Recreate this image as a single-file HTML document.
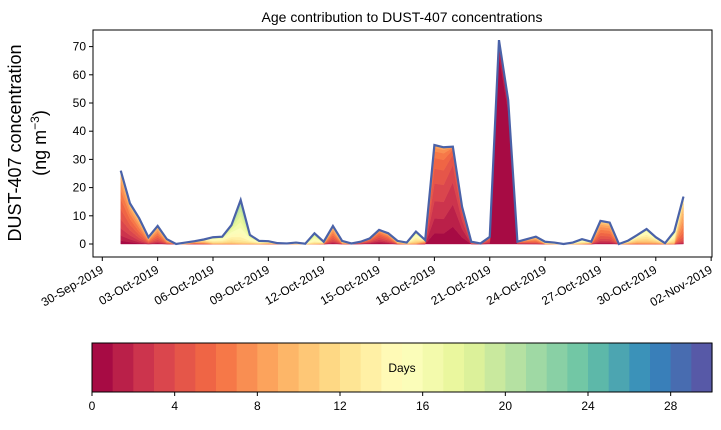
<!DOCTYPE html>
<html><head><meta charset="utf-8">
<style>
body{margin:0;background:#fff;font-family:"Liberation Sans",sans-serif;}
svg text{font-family:"Liberation Sans",sans-serif;fill:#000;}
</style></head>
<body>
<svg id="chart" width="721" height="425" viewBox="0 0 721 425" xmlns="http://www.w3.org/2000/svg">
<text x="402" y="22" font-size="14" text-anchor="middle">Age contribution to DUST-407 concentrations</text>
<g>
<text x="21" y="143" font-size="18" text-anchor="middle" transform="rotate(-90 21 143)">DUST-407 concentration</text>
<text x="46" y="143" font-size="18" text-anchor="middle" transform="rotate(-90 46 143)">(ng m<tspan font-size="12" dy="-7">−3</tspan><tspan dy="7">)</tspan></text>
</g>
<g id="layers"></g>
<g id="axes"></g>
<g id="cbar"></g>
</svg>
<script>
const totals=[26,14.4,9.1,2.4,6.4,1.7,0,0.5,1.0,1.6,2.4,2.6,6.7,15.6,3.2,1.1,1.0,0.3,0.2,0.5,0.1,3.8,0.8,6.4,1.1,0.2,0.8,2.0,5.0,3.8,1.1,0.5,4.4,1.4,35.1,34.3,34.5,13.2,0.8,0.2,2.5,72.3,51,0.8,1.7,2.6,0.8,0.5,0,0.5,1.7,0.8,8.2,7.6,0,1.2,3.2,5.3,2.4,0.3,4.4,16.8];
const meanAge=[5,5,6,7,6,8,10,12,8,10,14,14,15,17,15,14,12,10,10,14,12,16,12,6,10,8,5,4,4,5,10,12,14,8,3,3,2,2,6,10,4,0,0,4,6,7,12,14,12,14,14,10,6,6,8,12,12,13,12,10,14,8];
const spread=[3,3,3,3,3,3,3,3,3,3,3,3,3,3,3,3,3,3,3,3,3,3,3,3,3,3,3,3,3,3,3,3,3,3,2.5,2.5,2,2,3,3,2,0.6,0.6,3,3,3,3,3,3,3,3,3,3,3,3,3,3,3,3,3,3,3];
const xTickLabels=["30-Sep-2019","03-Oct-2019","06-Oct-2019","09-Oct-2019","12-Oct-2019","15-Oct-2019","18-Oct-2019","21-Oct-2019","24-Oct-2019","27-Oct-2019","30-Oct-2019","02-Nov-2019"];
const yTicks=[0,10,20,30,40,50,60,70];
const cbarTicks=[0,4,8,12,16,20,24,28];
const NL=30;
const NS="http://www.w3.org/2000/svg";
const X0=102.3,PXD=18.45,Y0=244,PXV=2.82;
function xOf(d){return X0+d*PXD;}
function yOf(v){return Y0-v*PXV;}
const stops=["#9e0142","#d53e4f","#f46d43","#fdae61","#fee08b","#ffffbf","#e6f598","#abdda4","#66c2a5","#3288bd","#5e4fa2"];
function hex(h){return[1,3,5].map(i=>parseInt(h.substr(i,2),16));}
function spectral(t){const p=t*10,i=Math.min(9,Math.floor(p)),f=p-i;const a=hex(stops[i]),b=hex(stops[i+1]);return "rgb("+a.map((c,j)=>Math.round(c+(b[j]-c)*f)).join(",")+")";}
function mk(tag,attrs,parent){const e=document.createElementNS(NS,tag);for(const k in attrs)e.setAttribute(k,attrs[k]);parent.appendChild(e);return e;}
const layersG=document.getElementById('layers');
const n=totals.length;
let prev=new Array(n).fill(0);
const shares=totals.map((t,i)=>{let w=[];let s=0;for(let k=0;k<NL;k++){const z=(k+0.5-meanAge[i])/spread[i];const v=Math.exp(-z*z/2)+0.0005;w.push(v);s+=v;}return w.map(v=>v/s*t);});
for(let k=0;k<NL;k++){
  const top=prev.map((p,i)=>p+shares[i][k]);
  let d="";
  for(let i=0;i<n;i++){d+=(i?"L":"M")+xOf(1+0.5*i).toFixed(2)+","+yOf(top[i]).toFixed(2);}
  for(let i=n-1;i>=0;i--){d+="L"+xOf(1+0.5*i).toFixed(2)+","+yOf(prev[i]).toFixed(2);}
  d+="Z";
  const c=spectral((k+0.5)/NL);
  const p=mk('path',{d:d,fill:c,stroke:c,'stroke-width':0.4},layersG);
  
  
  prev=top;
}
let ld="";for(let i=0;i<n;i++){ld+=(i?"L":"M")+xOf(1+0.5*i).toFixed(2)+","+yOf(totals[i]).toFixed(2);}
const tl=mk('path',{d:ld,fill:'none',stroke:'#4a62a8','stroke-width':2.2},layersG);


const ax=document.getElementById('axes');
mk('rect',{x:93,y:30,width:619,height:227,fill:'none',stroke:'#000','stroke-width':1},ax);
yTicks.forEach(v=>{const y=yOf(v);mk('line',{x1:89,x2:93,y1:y,y2:y,stroke:'#000'},ax);
 const t=mk('text',{x:86,y:y+4,'font-size':12,'text-anchor':'end'},ax);t.textContent=v;
 
 });
xTickLabels.forEach((lab,i)=>{const x=xOf(3*i);mk('line',{x1:x,x2:x,y1:257,y2:261,stroke:'#000'},ax);
 const t=mk('text',{x:x+2,y:272,'font-size':12,'text-anchor':'end',transform:'rotate(-30 '+(x+2)+' 272)'},ax);t.textContent=lab;
 
 });
const cb=document.getElementById('cbar');
const CX=92,CW=620,CY=343,CH=49;
for(let k=0;k<NL;k++){const r=mk('rect',{x:CX+k*CW/NL,y:CY,width:CW/NL+0.6,height:CH,fill:spectral((k+0.5)/NL)},cb);
 
 }
mk('rect',{x:CX,y:CY,width:CW,height:CH,fill:'none',stroke:'#000'},cb);
cbarTicks.forEach(v=>{const x=CX+v*CW/NL;mk('line',{x1:x,x2:x,y1:CY+CH,y2:CY+CH+4,stroke:'#000'},cb);
 const t=mk('text',{x:x,y:CY+CH+18,'font-size':12,'text-anchor':'middle'},cb);t.textContent=v;
 
 });
const dl=mk('text',{x:402,y:372,'font-size':12,'text-anchor':'middle'},cb);dl.textContent="Days";


</script>
</body></html>
